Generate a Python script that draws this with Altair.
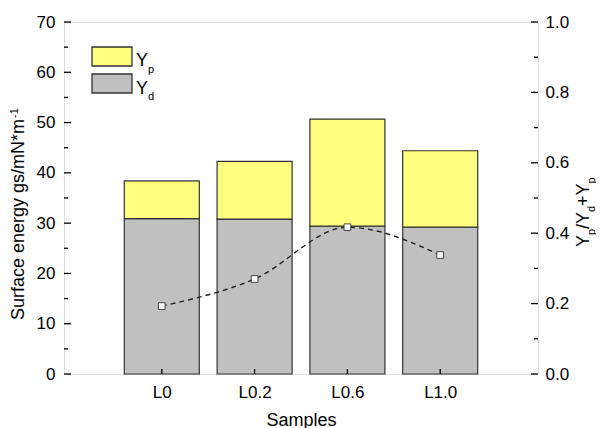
import altair as alt
import pandas as pd

# ---- data ----
samples = ["L0", "L0.2", "L0.6", "L1.0"]
yd_values = [30.9, 30.8, 29.4, 29.2]      # dispersive part (grey)
yp_values = [7.5, 11.5, 21.3, 15.2]       # polar part (yellow)
ratio_values = [0.193, 0.270, 0.417, 0.338]  # Yp/(Yd+Yp), right axis

left_major = [0, 10, 20, 30, 40, 50, 60, 70]
left_minor = [5, 15, 25, 35, 45, 55, 65]
right_major = [0.0, 0.2, 0.4, 0.6, 0.8, 1.0]
right_minor = [0.1, 0.3, 0.5, 0.7, 0.9]
x_domain = [0, 5]
left_domain = [0, 70]
right_domain = [0, 1]

# ---- style ----
W, H = 474, 352
FONT = "Liberation Sans"
LABEL_SIZE = 17
TITLE_SIZE = 18
SUB_SIZE = 11
YELLOW = "#FFFF80"
GREY = "#C0C0C0"
EDGE = "#333333"

df = pd.DataFrame({
    "sample": samples,
    "pos": list(range(1, len(samples) + 1)),
    "yd": yd_values,
    "yp": yp_values,
    "ratio": ratio_values,
})
df["top"] = df["yd"] + df["yp"]

xscale = alt.Scale(domain=x_domain, nice=False, zero=False)
lscale = alt.Scale(domain=left_domain, nice=False)
rscale = alt.Scale(domain=right_domain, nice=False)

label_expr = "[" + ",".join("'%s'" % s for s in samples) + "][datum.value - 1]"

x_axis = alt.Axis(values=list(df["pos"]), labelExpr=label_expr, title="Samples",
                  ticks=False, tickSize=0, domain=False, grid=False,
                  labelFont=FONT, labelFontSize=LABEL_SIZE, labelColor="black",
                  labelPadding=10, titleFont=FONT, titleFontSize=TITLE_SIZE,
                  titleFontWeight="normal", titleColor="black",
                  titleBaseline="alphabetic", titleY=51, titleX=W / 2)
left_axis = alt.Axis(orient="left", values=left_major, title=None, ticks=False,
                     tickSize=0, domain=False, grid=False, labelFont=FONT,
                     labelFontSize=LABEL_SIZE, labelColor="black", labelPadding=9)
right_axis = alt.Axis(orient="right", values=right_major, format=".1f", title=None,
                      ticks=False, tickSize=0, domain=False, grid=False,
                      labelFont=FONT, labelFontSize=LABEL_SIZE, labelColor="black",
                      labelPadding=7)

base = alt.Chart(df)

bars_d = base.mark_bar(size=75, color=GREY, stroke=EDGE, strokeWidth=1.2).encode(
    x=alt.X("pos:Q", scale=xscale, axis=x_axis),
    y=alt.Y("yd:Q", scale=lscale, axis=left_axis),
)
bars_p = base.mark_bar(size=75, color=YELLOW, stroke=EDGE, strokeWidth=1.2).encode(
    x=alt.X("pos:Q", scale=xscale),
    y=alt.Y("top:Q", scale=lscale, axis=None),
    y2="yd:Q",
)
line = base.mark_line(interpolate="monotone", color="#222222", strokeWidth=1.4,
                      strokeDash=[5, 4]).encode(
    x=alt.X("pos:Q", scale=xscale),
    y=alt.Y("ratio:Q", scale=rscale, axis=right_axis),
)
points = base.mark_point(shape="square", filled=True, fill="white", stroke="#444444",
                         strokeWidth=1, size=45, opacity=1).encode(
    x=alt.X("pos:Q", scale=xscale),
    y=alt.Y("ratio:Q", scale=rscale, axis=None),
)

# inward ticks, placed through the scales
def yticks(values, scale, x0, x1):
    return alt.Chart(pd.DataFrame({"v": values})).mark_rule(color="black", strokeWidth=1.3).encode(
        y=alt.Y("v:Q", scale=scale, axis=None),
        x=alt.value(x0), x2=alt.value(x1),
    )

tick_layers = [
    yticks(left_major, lscale, 0, 7),
    yticks(left_minor, lscale, 0, 4),
    yticks(right_major, rscale, W, W - 7),
    yticks(right_minor, rscale, W, W - 4),
    base.mark_rule(color="black", strokeWidth=1.3).encode(
        x=alt.X("pos:Q", scale=xscale), y=alt.value(H), y2=alt.value(H - 5)),
]

one = pd.DataFrame({"a": [0]})

def txt(text, x, y, size, angle=0, align="left", baseline="alphabetic"):
    kw = dict(text=text, font=FONT, fontSize=size, color="black", align=align,
              baseline=baseline)
    if angle:
        kw["angle"] = angle
    return alt.Chart(one).mark_text(**kw).encode(x=alt.value(x), y=alt.value(y))

def swatch(color, x0, x1, y0, y1):
    return alt.Chart(one).mark_rect(color=color, stroke=EDGE, strokeWidth=1.3).encode(
        x=alt.value(x0), x2=alt.value(x1), y=alt.value(y0), y2=alt.value(y1))

# legend
legend_layers = [
    swatch(YELLOW, 28, 68, 25, 44),
    swatch(GREY, 28, 68, 52, 71),
    txt("Y", 72, 44, TITLE_SIZE),
    txt("p", 84, 50.5, SUB_SIZE),
    txt("Y", 72, 71.5, TITLE_SIZE),
    txt("d", 84, 77.5, SUB_SIZE),
]

# left axis title (rotated, with superscript)
main_title = "Surface energy gs/mN*m"
left_title = [
    txt(main_title, -40, 298, TITLE_SIZE, angle=270),
    txt("-1", -46.5, 96, SUB_SIZE, angle=270),
]

# right axis title Yp/Yd+Yp (rotated, with subscripts)
RB, RS = 525, 530.5
right_title = [
    txt("Y", RB, 225, TITLE_SIZE, angle=270),
    txt("p", RS, 213, SUB_SIZE, angle=270),
    txt("/", RB, 207, TITLE_SIZE, angle=270),
    txt("Y", RB, 202, TITLE_SIZE, angle=270),
    txt("d", RS, 190, SUB_SIZE, angle=270),
    txt("+", RB, 184, TITLE_SIZE, angle=270),
    txt("Y", RB, 173.5, TITLE_SIZE, angle=270),
    txt("p", RS, 161.5, SUB_SIZE, angle=270),
]

chart = alt.layer(
    bars_d, line, bars_p, *tick_layers, points, *legend_layers, *left_title, *right_title
).resolve_scale(y="independent").properties(
    width=W, height=H,
    autosize=alt.AutoSizeParams(type="none"),
    padding={"left": 56, "top": 14, "right": 58, "bottom": 64},
).configure_view(stroke="black", strokeWidth=1.5).configure(background="white")

chart.save("out.html", embed_options={"renderer": "svg", "actions": False})
